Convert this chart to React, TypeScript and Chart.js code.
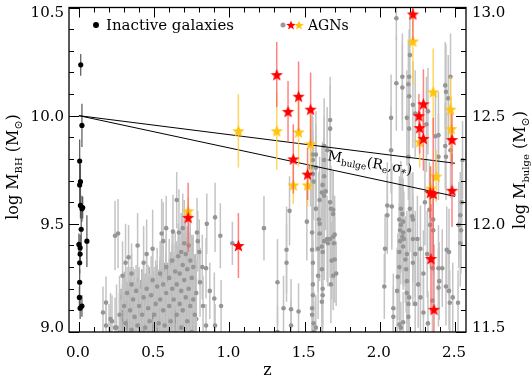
import React, { useEffect, useRef } from 'react';
import { Chart, registerables } from 'chart.js';
Chart.register(...registerables);

type P = [number, number, number]; // [z, logM, err]

const xTicks = [0, 0.5, 1.0, 1.5, 2.0, 2.5];
const yTicksLeft = [9.0, 9.5, 10.0, 10.5];
const yTicksRight = [11.5, 12.0, 12.5, 13.0];

const relationZ = [0, 2.5];
const relationUpper = [10.0, 9.78];
const relationLower = [10.0, 9.627];

const inactive: P[] = [
  [0.012, 10.235, 0.05], [0.02, 9.955, 0.1], [0.005, 9.79, 0.1], [0.005, 9.68, 0.1],
  [0.01, 9.695, 0.08], [0.01, 9.585, 0.06], [0.02, 9.57, 0.06], [0.025, 9.575, 0.05],
  [0.015, 9.475, 0.1], [0.0, 9.405, 0.05], [0.008, 9.39, 0.06], [0.008, 9.36, 0.05],
  [0.005, 9.32, 0.05], [0.005, 9.23, 0.06], [0.003, 9.16, 0.05], [0.008, 9.11, 0.05],
  [0.02, 9.12, 0.05], [0.053, 9.42, 0.12],
];

const agnRed: P[] = [
  [0.726, 9.53, 0.16], [1.06, 9.40, 0.15], [1.315, 10.19, 0.15], [1.39, 10.02, 0.14],
  [1.46, 10.09, 0.16], [1.54, 10.03, 0.17], [1.425, 9.80, 0.16], [1.52, 9.73, 0.12],
  [2.22, 10.47, 0.12], [2.29, 10.055, 0.16], [2.26, 10.0, 0.1], [2.265, 9.945, 0.12],
  [2.29, 9.895, 0.15], [2.48, 9.89, 0.12], [2.335, 9.645, 0.12], [2.355, 9.64, 0.35],
  [2.48, 9.655, 0.17], [2.34, 9.34, 0.25], [2.36, 9.105, 0.3],
];

const agnYellow: P[] = [
  [0.726, 9.56, 0.06], [1.06, 9.93, 0.17], [1.315, 9.93, 0.18], [1.46, 9.925, 0.16],
  [1.54, 9.87, 0.13], [1.425, 9.68, 0.09], [1.52, 9.68, 0.1], [2.22, 10.345, 0.2],
  [2.355, 10.11, 0.2], [2.47, 10.03, 0.15], [2.475, 9.94, 0.15], [2.265, 9.88, 0.12],
  [2.375, 9.72, 0.12], [2.34, 9.665, 0.1],
];

const agnGrayLowZ: P[] = [
  [0.20, 8.98, 0.15], [0.22, 9.05, 0.12], [0.25, 9.02, 0.2], [0.27, 9.08, 0.18], [0.28, 8.95, 0.2],
  [0.30, 9.12, 0.15], [0.31, 9.04, 0.18], [0.32, 9.18, 0.12], [0.33, 8.97, 0.22], [0.34, 9.10, 0.2],
  [0.35, 9.22, 0.14], [0.35, 9.01, 0.2], [0.36, 9.15, 0.15], [0.37, 9.07, 0.22], [0.38, 8.95, 0.25],
  [0.38, 9.19, 0.12], [0.39, 9.03, 0.2], [0.40, 9.12, 0.18], [0.41, 8.98, 0.22], [0.42, 9.08, 0.2],
  [0.43, 9.16, 0.15], [0.44, 9.02, 0.24], [0.45, 9.20, 0.16], [0.45, 8.94, 0.25], [0.46, 9.11, 0.2],
  [0.47, 9.05, 0.22], [0.48, 9.17, 0.18], [0.48, 8.97, 0.25], [0.49, 9.24, 0.15], [0.50, 9.08, 0.22],
  [0.51, 9.13, 0.2], [0.51, 8.96, 0.25], [0.52, 9.21, 0.18], [0.53, 9.04, 0.25], [0.54, 9.15, 0.2],
  [0.54, 9.27, 0.15], [0.55, 8.98, 0.27], [0.56, 9.10, 0.22], [0.56, 9.22, 0.18], [0.57, 9.03, 0.25],
  [0.58, 9.18, 0.2], [0.58, 9.30, 0.15], [0.59, 8.95, 0.28], [0.60, 9.12, 0.22], [0.60, 9.25, 0.18],
  [0.61, 9.05, 0.26], [0.62, 9.20, 0.2], [0.62, 9.33, 0.14], [0.63, 8.99, 0.28], [0.63, 9.15, 0.22],
  [0.64, 9.28, 0.18], [0.65, 9.08, 0.25], [0.65, 9.22, 0.2], [0.66, 9.35, 0.15], [0.66, 8.96, 0.3],
  [0.67, 9.13, 0.24], [0.67, 9.27, 0.18], [0.68, 9.02, 0.28], [0.68, 9.19, 0.22], [0.69, 9.31, 0.16],
  [0.69, 9.10, 0.25], [0.70, 9.24, 0.2], [0.70, 8.98, 0.3], [0.71, 9.36, 0.15], [0.71, 9.16, 0.24],
  [0.72, 9.05, 0.28], [0.72, 9.29, 0.2], [0.73, 9.40, 0.14], [0.73, 9.20, 0.25], [0.74, 9.12, 0.26],
  [0.74, 9.33, 0.18], [0.75, 9.00, 0.3], [0.75, 9.25, 0.2], [0.76, 9.15, 0.22], [0.76, 9.30, 0.15],
  [0.77, 9.08, 0.22], [0.78, 9.18, 0.15], [0.78, 8.97, 0.2],
  [0.24, 9.445, 0.16], [0.26, 9.455, 0.16], [0.18, 9.136, 0.12], [0.16, 9.09, 0.12], [0.18, 9.03, 0.1],
  [0.21, 9.06, 0.12], [0.24, 9.02, 0.14], [0.31, 9.32, 0.18], [0.33, 9.345, 0.15], [0.29, 9.26, 0.16],
  [0.35, 9.27, 0.14], [0.39, 9.40, 0.15], [0.43, 9.32, 0.17], [0.45, 9.36, 0.16], [0.49, 9.385, 0.18],
  [0.55, 9.455, 0.16], [0.56, 9.42, 0.18], [0.58, 9.48, 0.15], [0.625, 9.464, 0.17], [0.65, 9.61, 0.13],
  [0.665, 9.46, 0.2], [0.69, 9.48, 0.16], [0.70, 9.41, 0.2], [0.68, 9.37, 0.18], [0.79, 9.42, 0.14],
  [0.785, 9.46, 0.16], [0.80, 9.37, 0.15], [0.85, 9.50, 0.14], [0.905, 9.53, 0.16], [0.94, 9.445, 0.15],
  [1.02, 9.41, 0.1], [0.845, 9.295, 0.14], [0.87, 9.19, 0.13], [0.90, 9.155, 0.12], [0.945, 9.12, 0.12],
  [0.805, 9.23, 0.16], [0.825, 9.12, 0.14], [0.845, 9.03, 0.1], [0.905, 9.03, 0.1], [0.82, 9.30, 0.15],
];

const agnGrayDense: P[] = [
  [0.270, 9.00, 0.18], [0.275, 8.92, 0.25], [0.280, 9.06, 0.14], [0.285, 8.95, 0.22], [0.290, 9.10, 0.12],
  [0.295, 8.98, 0.2], [0.300, 8.90, 0.28], [0.305, 9.05, 0.16], [0.310, 9.14, 0.1], [0.315, 8.93, 0.26],
  [0.320, 9.02, 0.2], [0.325, 9.09, 0.14], [0.330, 8.96, 0.24], [0.335, 9.12, 0.12], [0.340, 8.91, 0.28],
  [0.345, 9.04, 0.18], [0.350, 9.13, 0.1], [0.355, 8.97, 0.22], [0.360, 9.07, 0.15], [0.365, 8.92, 0.27],
  [0.370, 9.11, 0.12], [0.375, 9.00, 0.2], [0.380, 9.06, 0.17], [0.385, 8.94, 0.26], [0.390, 9.15, 0.1],
  [0.395, 8.99, 0.22], [0.400, 9.04, 0.18], [0.405, 8.90, 0.3], [0.410, 9.10, 0.14], [0.415, 9.01, 0.2],
  [0.420, 8.95, 0.26], [0.425, 9.13, 0.12], [0.430, 9.03, 0.2], [0.435, 8.92, 0.28], [0.440, 9.09, 0.16],
  [0.445, 9.00, 0.22], [0.450, 9.14, 0.12], [0.455, 8.96, 0.27], [0.460, 9.06, 0.19], [0.465, 9.16, 0.1],
  [0.470, 8.93, 0.3], [0.475, 9.02, 0.22], [0.480, 9.11, 0.15], [0.485, 8.97, 0.26], [0.490, 9.07, 0.19],
  [0.495, 9.18, 0.1], [0.500, 8.91, 0.32], [0.505, 9.03, 0.22], [0.510, 9.09, 0.18], [0.515, 8.95, 0.28],
  [0.520, 9.15, 0.13], [0.525, 9.01, 0.24], [0.530, 9.10, 0.18], [0.535, 8.93, 0.3], [0.540, 9.06, 0.22],
  [0.545, 9.19, 0.12], [0.550, 9.00, 0.26], [0.555, 9.12, 0.18], [0.560, 8.94, 0.32], [0.565, 9.08, 0.22],
  [0.570, 9.20, 0.12], [0.575, 8.98, 0.3], [0.580, 9.10, 0.2], [0.585, 9.04, 0.25], [0.590, 9.17, 0.15],
  [0.595, 8.92, 0.35], [0.600, 9.06, 0.25], [0.605, 9.14, 0.18], [0.610, 9.22, 0.12], [0.615, 8.97, 0.32],
  [0.620, 9.09, 0.22], [0.625, 9.03, 0.28], [0.630, 9.19, 0.15], [0.635, 9.11, 0.2], [0.640, 8.95, 0.35],
  [0.645, 9.25, 0.12], [0.650, 9.05, 0.28], [0.655, 9.15, 0.2], [0.660, 9.00, 0.3], [0.665, 9.21, 0.15],
  [0.670, 9.08, 0.25], [0.675, 8.94, 0.38], [0.680, 9.13, 0.22], [0.685, 9.27, 0.12], [0.690, 9.03, 0.3],
  [0.695, 9.17, 0.2], [0.700, 9.10, 0.25], [0.705, 9.29, 0.12], [0.710, 8.98, 0.35], [0.715, 9.20, 0.18],
  [0.720, 9.12, 0.25], [0.725, 9.32, 0.1], [0.730, 9.05, 0.3], [0.735, 9.24, 0.16], [0.740, 9.16, 0.22],
  [0.745, 8.97, 0.38], [0.750, 9.30, 0.12], [0.755, 9.09, 0.25], [0.760, 9.20, 0.15], [0.765, 9.02, 0.28],
  [0.770, 9.13, 0.18], [0.775, 8.95, 0.3], [0.780, 9.06, 0.2],
  [0.302, 9.08, 0.2], [0.318, 8.99, 0.24], [0.342, 9.16, 0.12], [0.368, 9.03, 0.22], [0.392, 9.09, 0.2],
  [0.418, 9.17, 0.12], [0.442, 8.97, 0.3], [0.468, 9.12, 0.18], [0.492, 9.00, 0.28], [0.518, 9.06, 0.25],
  [0.538, 9.17, 0.16], [0.558, 9.05, 0.27], [0.578, 9.14, 0.22], [0.598, 9.01, 0.3], [0.612, 9.17, 0.2],
  [0.632, 9.07, 0.28], [0.652, 9.23, 0.17], [0.668, 9.04, 0.32], [0.688, 9.19, 0.22], [0.702, 9.01, 0.35],
  [0.718, 9.26, 0.18], [0.732, 9.14, 0.28], [0.748, 9.22, 0.2], [0.762, 9.05, 0.3], [0.772, 9.24, 0.12],
  [0.708, 9.30, 0.16], [0.722, 9.34, 0.14], [0.728, 9.28, 0.2], [0.738, 9.31, 0.15], [0.752, 9.27, 0.17],
  [0.698, 9.26, 0.2], [0.682, 9.29, 0.15], [0.662, 9.24, 0.2], [0.642, 9.21, 0.2], [0.622, 9.26, 0.15],
];

const agnGrayMidZ: P[] = [
  [1.23, 9.48, 0.15], [1.38, 9.38, 0.2], [1.38, 9.32, 0.18], [1.32, 9.23, 0.2], [1.36, 9.11, 0.15],
  [1.41, 9.105, 0.14], [1.46, 9.095, 0.13], [1.41, 9.03, 0.12], [1.32, 9.0, 0.12], [1.40, 9.56, 0.16],
  [1.515, 9.51, 0.18], [1.55, 9.46, 0.2], [1.55, 9.38, 0.22], [1.555, 9.32, 0.2], [1.555, 9.22, 0.2],
  [1.55, 9.11, 0.18], [1.56, 9.04, 0.15], [1.575, 9.02, 0.15], [1.575, 9.57, 0.2], [1.595, 9.52, 0.22],
  [1.60, 9.61, 0.2], [1.615, 9.645, 0.22], [1.62, 9.68, 0.2], [1.63, 9.63, 0.2], [1.64, 9.65, 0.18],
  [1.60, 9.50, 0.2], [1.60, 9.455, 0.22], [1.59, 9.385, 0.2], [1.615, 9.395, 0.18], [1.62, 9.37, 0.2],
  [1.63, 9.42, 0.18], [1.65, 9.43, 0.2], [1.655, 9.41, 0.2], [1.67, 9.43, 0.18], [1.67, 9.60, 0.2],
  [1.675, 9.57, 0.2], [1.69, 9.565, 0.18], [1.69, 9.545, 0.2], [1.69, 9.44, 0.2], [1.70, 9.45, 0.18],
  [1.695, 9.41, 0.16], [1.68, 9.33, 0.18], [1.70, 9.335, 0.2], [1.71, 9.27, 0.15], [1.69, 9.26, 0.16],
  [1.675, 9.22, 0.18], [1.615, 9.29, 0.2], [1.59, 9.26, 0.2], [1.62, 9.20, 0.18], [1.62, 9.17, 0.18],
  [1.615, 9.14, 0.16], [1.555, 9.17, 0.18], [1.55, 9.08, 0.15], [1.56, 9.0, 0.14], [1.67, 9.98, 0.2],
  [1.67, 9.94, 0.2], [1.63, 9.86, 0.22], [1.65, 9.84, 0.2], [1.55, 9.82, 0.22], [1.575, 9.82, 0.2],
  [1.555, 9.795, 0.2], [1.63, 9.795, 0.2], [1.54, 9.76, 0.18], [1.575, 9.76, 0.2], [1.63, 9.72, 0.18],
  [1.555, 9.73, 0.2], [1.56, 9.695, 0.18],
];

const agnGrayHighZ: P[] = [
  [2.11, 10.45, 0.1], [2.15, 10.18, 0.2], [2.11, 10.15, 0.22], [2.15, 10.13, 0.2], [2.195, 10.18, 0.22],
  [2.19, 10.145, 0.2], [2.195, 10.09, 0.22], [2.20, 10.28, 0.2], [2.075, 9.99, 0.2], [2.18, 9.99, 0.22],
  [2.195, 9.94, 0.2], [2.22, 10.05, 0.2], [2.235, 10.01, 0.2], [2.435, 10.14, 0.2], [2.44, 10.11, 0.22],
  [2.455, 10.08, 0.2], [2.47, 10.18, 0.2], [2.32, 10.02, 0.2], [2.31, 9.96, 0.22], [2.37, 9.905, 0.2],
  [2.435, 9.86, 0.2], [2.47, 9.84, 0.22], [2.075, 9.84, 0.2], [2.19, 9.81, 0.2], [2.55, 9.795, 0.18],
  [2.44, 9.81, 0.2], [2.39, 9.91, 0.2], [2.39, 9.81, 0.2],
  [2.05, 9.585, 0.2], [2.08, 9.58, 0.2], [2.05, 9.54, 0.18], [2.035, 9.385, 0.16], [2.03, 9.21, 0.15],
  [2.09, 9.11, 0.16], [2.09, 9.07, 0.14], [2.115, 9.19, 0.2], [2.12, 9.255, 0.2], [2.13, 9.30, 0.2],
  [2.13, 9.37, 0.22], [2.135, 9.42, 0.2], [2.15, 9.44, 0.22], [2.135, 9.47, 0.2], [2.14, 9.495, 0.22],
  [2.13, 9.52, 0.2], [2.15, 9.545, 0.2], [2.14, 9.57, 0.22], [2.155, 9.51, 0.2], [2.155, 9.46, 0.2],
  [2.16, 9.43, 0.22], [2.155, 9.395, 0.2], [2.17, 9.335, 0.2], [2.18, 9.36, 0.2], [2.175, 9.29, 0.2],
  [2.18, 9.235, 0.2], [2.18, 9.18, 0.2], [2.195, 9.16, 0.18], [2.19, 9.13, 0.18], [2.19, 9.07, 0.15],
  [2.155, 9.045, 0.14], [2.13, 9.035, 0.14], [2.14, 9.02, 0.12], [2.20, 9.57, 0.2], [2.215, 9.535, 0.2],
  [2.22, 9.52, 0.22], [2.195, 9.47, 0.2], [2.22, 9.43, 0.2], [2.25, 9.43, 0.2], [2.235, 9.36, 0.2],
  [2.22, 9.32, 0.2], [2.255, 9.22, 0.2], [2.27, 9.16, 0.18], [2.235, 9.13, 0.18], [2.29, 9.09, 0.16],
  [2.32, 9.04, 0.15], [2.30, 9.60, 0.2], [2.33, 9.565, 0.22], [2.335, 9.495, 0.2], [2.355, 9.52, 0.2],
  [2.355, 9.47, 0.2], [2.27, 9.385, 0.2], [2.315, 9.36, 0.2], [2.35, 9.295, 0.18], [2.29, 9.27, 0.2],
  [2.39, 9.295, 0.2], [2.415, 9.295, 0.18], [2.395, 9.235, 0.18], [2.445, 9.38, 0.2], [2.46, 9.37, 0.2],
  [2.44, 9.21, 0.18], [2.46, 9.19, 0.18], [2.485, 9.16, 0.16], [2.465, 9.135, 0.15], [2.52, 9.135, 0.15],
  [2.535, 9.41, 0.2], [2.54, 9.47, 0.2], [2.525, 9.495, 0.2], [2.535, 9.54, 0.2], [2.545, 9.60, 0.2],
  [2.35, 9.145, 0.16], [2.39, 9.205, 0.18],
];

const FONT = '"DejaVu Serif", serif';

function makeStar(fill: string, R: number): HTMLCanvasElement {
  const c = document.createElement('canvas');
  const s = Math.ceil(R * 2 + 2);
  c.width = s;
  c.height = s;
  const g = c.getContext('2d')!;
  g.translate(s / 2, s / 2 + R * 0.1);
  g.beginPath();
  for (let i = 0; i < 10; i++) {
    const r = i % 2 === 0 ? R : R * 0.42;
    const a = -Math.PI / 2 + (i * Math.PI) / 5;
    g.lineTo(r * Math.cos(a), r * Math.sin(a));
  }
  g.closePath();
  g.fillStyle = fill;
  g.fill();
  return c;
}

type Part = { t: string; size: number; dy?: number; italic?: boolean };

function drawRich(ctx: CanvasRenderingContext2D, parts: Part[], x: number, y: number, angle: number, align: 'left' | 'center') {
  ctx.save();
  ctx.translate(x, y);
  ctx.rotate(angle);
  ctx.textBaseline = 'alphabetic';
  ctx.textAlign = 'left';
  let total = 0;
  const widths = parts.map((p) => {
    ctx.font = `${p.italic ? 'italic ' : ''}${p.size}px ${FONT}`;
    const w = ctx.measureText(p.t).width;
    total += w;
    return w;
  });
  let cx = align === 'center' ? -total / 2 : 0;
  parts.forEach((p, i) => {
    ctx.font = `${p.italic ? 'italic ' : ''}${p.size}px ${FONT}`;
    ctx.fillText(p.t, cx, p.dy || 0);
    cx += widths[i];
  });
  ctx.restore();
}

const errorBarPlugin = {
  id: 'errorBars',
  beforeDatasetDraw(chart: any, args: any) {
    const ds = chart.data.datasets[args.index];
    if (!ds.errs) return;
    const { ctx, chartArea } = chart;
    const xs = chart.scales.x;
    const ys = chart.scales.y;
    ctx.save();
    ctx.beginPath();
    ctx.rect(chartArea.left, chartArea.top, chartArea.right - chartArea.left, chartArea.bottom - chartArea.top);
    ctx.clip();
    ctx.strokeStyle = ds.errColor;
    ctx.lineWidth = ds.errWidth;
    ds.data.forEach((d: any, i: number) => {
      const e = ds.errs[i];
      const px = xs.getPixelForValue(d.x);
      ctx.beginPath();
      ctx.moveTo(px, ys.getPixelForValue(d.y - e));
      ctx.lineTo(px, ys.getPixelForValue(d.y + e));
      ctx.stroke();
    });
    ctx.restore();
  },
};

function makeFramePlugin(redSmall: HTMLCanvasElement, yelSmall: HTMLCanvasElement) {
  return {
    id: 'frame',
    afterDraw(chart: any) {
      const { ctx, chartArea } = chart;
      const { left, right, top, bottom } = chartArea;
      const xs = chart.scales.x;
      const ys = chart.scales.y;
      const y2 = chart.scales.y2;
      ctx.save();
      ctx.strokeStyle = '#000';
      ctx.lineWidth = 1.3;
      ctx.strokeRect(left, top, right - left, bottom - top);
      ctx.lineWidth = 1;
      ctx.beginPath();
      for (let k = 0; k <= 15; k++) {
        const v = 9.0 + k * 0.1;
        const py = Math.round(ys.getPixelForValue(v)) + 0.5;
        const len = k % 5 === 0 ? 10 : 5;
        ctx.moveTo(left, py); ctx.lineTo(left + len, py);
        ctx.moveTo(right, py); ctx.lineTo(right - len, py);
      }
      for (let k = 0; k <= 25; k++) {
        const v = k * 0.1;
        const px = Math.round(xs.getPixelForValue(v)) + 0.5;
        const len = k % 5 === 0 ? 10 : 5;
        ctx.moveTo(px, bottom); ctx.lineTo(px, bottom - len);
        ctx.moveTo(px, top); ctx.lineTo(px, top + len);
      }
      ctx.stroke();

      ctx.fillStyle = '#000';
      ctx.font = `15px ${FONT}`;
      ctx.textBaseline = 'middle';
      ctx.textAlign = 'right';
      yTicksLeft.forEach((v) => {
        let py = ys.getPixelForValue(v) + 1;
        py = Math.max(top + 6, Math.min(bottom - 4, py));
        ctx.fillText(v.toFixed(1), 64, py);
      });
      ctx.textAlign = 'left';
      yTicksRight.forEach((v) => {
        let py = y2.getPixelForValue(v) + 1;
        py = Math.max(top + 6, Math.min(bottom - 4, py));
        ctx.fillText(v.toFixed(1), 472, py);
      });
      ctx.textAlign = 'center';
      xTicks.forEach((v) => {
        ctx.fillText(v.toFixed(1), xs.getPixelForValue(v) - 1, bottom + 21);
      });

      drawRich(ctx, [{ t: 'z', size: 16 }], (left + right) / 2, 375, 0, 'center');
      drawRich(ctx, [
        { t: 'log M', size: 16 }, { t: 'BH', size: 10, dy: 4 }, { t: ' (M', size: 16 }, { t: '⊙', size: 11, dy: 4 }, { t: ')', size: 16 },
      ], 18, 167, -Math.PI / 2, 'center');
      drawRich(ctx, [
        { t: 'log M', size: 16 }, { t: 'bulge', size: 10, dy: 4 }, { t: ' (M', size: 16 }, { t: '⊙', size: 11, dy: 4 }, { t: ')', size: 16 },
      ], 525, 170, -Math.PI / 2, 'center');

      drawRich(ctx, [
        { t: 'M', size: 14 }, { t: 'bulge', size: 9, dy: 3 }, { t: '(R', size: 14 }, { t: 'e', size: 9, dy: 3 },
        { t: ',σ', size: 14 }, { t: '*', size: 10, dy: 3 }, { t: ')', size: 14 },
      ], 327, 160, 0.17, 'left');

      ctx.fillStyle = '#000';
      ctx.beginPath(); ctx.arc(96, 25, 3, 0, Math.PI * 2); ctx.fill();
      drawRich(ctx, [{ t: 'Inactive galaxies', size: 15 }], 106, 30, 0, 'left');
      ctx.fillStyle = '#999';
      ctx.beginPath(); ctx.arc(283, 25, 2.5, 0, Math.PI * 2); ctx.fill();
      ctx.drawImage(redSmall, 291 - redSmall.width / 2, 25 - redSmall.height / 2);
      ctx.drawImage(yelSmall, 299 - yelSmall.width / 2, 25 - yelSmall.height / 2);
      ctx.fillStyle = '#000';
      drawRich(ctx, [{ t: 'AGNs', size: 14 }], 308, 30, 0, 'left');
      ctx.restore();
    },
  };
}

const toPts = (a: P[]) => a.map((p) => ({ x: p[0], y: p[1] }));
const toErr = (a: P[]) => a.map((p) => p[2]);

export default function App() {
  const ref = useRef<HTMLCanvasElement>(null);
  useEffect(() => {
    document.body.style.margin = '0';
    const canvas = ref.current!;
    const redStar = makeStar('#ff0000', 6.5);
    const yelStar = makeStar('#ffc40c', 6.5);
    const redSmall = makeStar('#ff0000', 5);
    const yelSmall = makeStar('#ffc40c', 5);
    const gray = [...agnGrayLowZ, ...agnGrayMidZ, ...agnGrayHighZ];
    const chart: any = new Chart(canvas, {
      type: 'scatter',
      data: {
        datasets: [
          {
            label: 'AGN red', data: toPts(agnRed), order: 0,
            pointStyle: redStar as any, pointRadius: 6.5,
            errs: toErr(agnRed), errColor: 'rgba(255,90,90,0.75)', errWidth: 1.5,
          } as any,
          {
            label: 'AGN yellow', data: toPts(agnYellow), order: 1,
            pointStyle: yelStar as any, pointRadius: 6.5,
            errs: toErr(agnYellow), errColor: 'rgba(255,205,60,0.8)', errWidth: 1.5,
          } as any,
          {
            label: 'upper', type: 'line', order: 2,
            data: relationZ.map((z, i) => ({ x: z, y: relationUpper[i] })),
            borderColor: '#000', borderWidth: 1, pointRadius: 0, showLine: true, fill: false,
          } as any,
          {
            label: 'lower', type: 'line', order: 2,
            data: relationZ.map((z, i) => ({ x: z, y: relationLower[i] })),
            borderColor: '#000', borderWidth: 1, pointRadius: 0, showLine: true, fill: false,
          } as any,
          {
            label: 'Inactive galaxies', data: toPts(inactive), order: 3,
            pointRadius: 2.6, backgroundColor: '#000', borderColor: '#000', borderWidth: 0,
            errs: toErr(inactive), errColor: '#555', errWidth: 1.2,
          } as any,
          {
            label: 'AGNs', data: toPts(gray), order: 4,
            pointRadius: 2.3, backgroundColor: '#959595', borderColor: '#959595', borderWidth: 0,
            errs: toErr(gray), errColor: '#c4c4c4', errWidth: 1.5,
          } as any,
          {
            label: 'AGNs (dense)', data: toPts(agnGrayDense), order: 5,
            pointRadius: 2.3, backgroundColor: '#959595', borderColor: '#959595', borderWidth: 0,
            errs: toErr(agnGrayDense), errColor: '#adadad', errWidth: 1.6,
          } as any,
        ],
      },
      options: {
        animation: false,
        responsive: false,
        devicePixelRatio: 1,
        events: [],
        layout: { padding: { left: 69, right: 65, top: 2, bottom: 46 } },
        plugins: { legend: { display: false }, tooltip: { enabled: false } },
        scales: {
          x: { type: 'linear', min: -0.066, max: 2.573, display: false },
          y: { type: 'linear', min: 9.0, max: 10.5, display: false },
          y2: { type: 'linear', min: 11.5, max: 13.0, display: false, position: 'right' },
        },
      },
      plugins: [errorBarPlugin, makeFramePlugin(redSmall, yelSmall)],
    });
    return () => chart.destroy();
  }, []);
  return (
    <div style={{ position: 'absolute', left: 0, top: 0, width: 531, height: 378, background: '#fff' }}>
      <canvas ref={ref} width={531} height={378} style={{ width: 531, height: 378 }} />
    </div>
  );
}
